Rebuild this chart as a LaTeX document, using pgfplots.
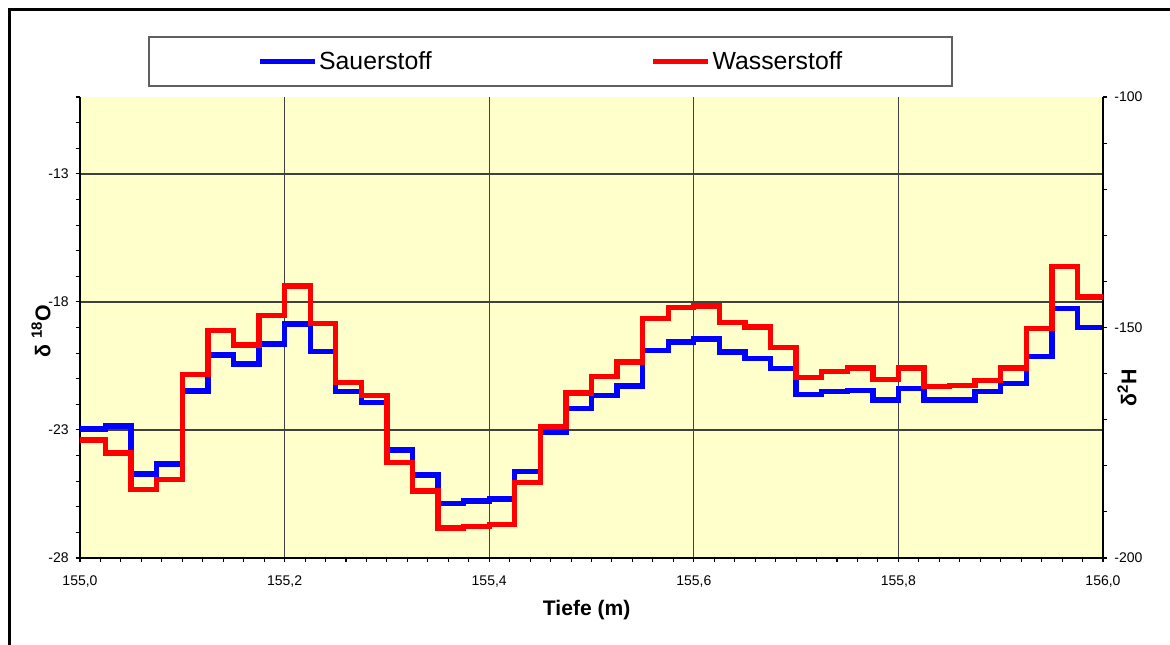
\documentclass[border=0pt]{standalone}
\usepackage{fontspec}
\setmainfont{Liberation Sans}
\usepackage{pgfplots}
\usepackage{pgfplotstable}
\pgfplotsset{compat=1.18}

\definecolor{bgyellow}{HTML}{FFFFCC}
\definecolor{gridc}{HTML}{404040}
\definecolor{legc}{HTML}{606060}

% depth (m), delta 18O
\pgfplotstableread{
x y
155.000 -22.96
155.025 -22.84
155.050 -24.72
155.075 -24.33
155.100 -21.48
155.125 -20.07
155.150 -20.43
155.175 -19.64
155.200 -18.86
155.225 -19.94
155.250 -21.50
155.275 -21.92
155.300 -23.78
155.325 -24.76
155.350 -25.86
155.375 -25.77
155.400 -25.70
155.425 -24.63
155.450 -23.11
155.475 -22.15
155.500 -21.66
155.525 -21.28
155.550 -19.91
155.575 -19.57
155.600 -19.45
155.625 -19.96
155.650 -20.20
155.675 -20.59
155.700 -21.61
155.725 -21.50
155.750 -21.46
155.775 -21.83
155.800 -21.37
155.825 -21.83
155.850 -21.83
155.875 -21.50
155.900 -21.18
155.925 -20.14
155.950 -18.27
155.975 -19.00
156.000 -19.00
}\sauerstoff

% depth (m), delta 2H
\pgfplotstableread{
x y
155.000 -174.4
155.025 -177.2
155.050 -185.1
155.075 -183.0
155.100 -160.2
155.125 -150.7
155.150 -153.8
155.175 -147.4
155.200 -141.0
155.225 -149.2
155.250 -161.9
155.275 -164.8
155.300 -179.3
155.325 -185.5
155.350 -193.5
155.375 -193.2
155.400 -192.8
155.425 -183.6
155.450 -171.5
155.475 -164.2
155.500 -160.6
155.525 -157.5
155.550 -148.0
155.575 -145.7
155.600 -145.3
155.625 -148.9
155.650 -149.9
155.675 -154.4
155.700 -160.9
155.725 -159.5
155.750 -158.8
155.775 -161.3
155.800 -158.8
155.825 -162.8
155.850 -162.6
155.875 -161.5
155.900 -158.8
155.925 -150.2
155.950 -136.7
155.975 -143.4
156.000 -143.4
}\wasserstoff

\pgfplotsset{
  common/.style={
    at={(60pt,64.5pt)}, anchor=south west, scale only axis,
    width=767.25pt, height=345.75pt,
    xmin=155, xmax=156,
    tick align=outside,
    major tick length=3pt, minor tick length=3pt,
    tick style={black, line width=0.8pt},
    axis line style={black, line width=1pt, -},
    ticklabel style={font=\fontsize{10.5}{12}\selectfont},
    clip=true,
  },
}

\begin{document}
\begin{tikzpicture}
\useasboundingbox (0pt,0pt) rectangle (877.5pt,483pt);
\begin{scope}
  \clip (0pt,0pt) rectangle (877.5pt,483pt);
  \draw[line width=2pt] (7.3pt,475.7pt) rectangle (900pt,-20pt);
\end{scope}

\begin{axis}[common,
  ymin=-28, ymax=-10,
  axis x line*=bottom, axis y line*=left,
  tick align=outside,
  axis background/.style={fill=bgyellow},
  xmajorgrids, ymajorgrids,
  grid style={gridc, line width=1pt},
  xtick={155,155.2,155.4,155.6,155.8,156},
  xticklabels={{155,0},{155,2},{155,4},{155,6},{155,8},{156,0}},
  minor x tick num=9,
  ytick={-28,-23,-18,-13},
  yticklabels={-28,-23,-18,-13},
  minor ytick={-27,-26,-25,-24,-22,-21,-20,-19,-17,-16,-15,-14,-12,-11,-10},
  xticklabel style={yshift=-7pt},
  yticklabel style={xshift=-2pt},
  xlabel={Tiefe (m)},
  xlabel style={font=\bfseries\fontsize{15.8}{18}\selectfont,
    at={(axis description cs:0.4953,-0.1128)}, anchor=center},
  ylabel={δ \textsuperscript{18}O},
  ylabel style={font=\bfseries\fontsize{16}{18}\selectfont,
    at={(axis description cs:-0.0381,0.4924)}, anchor=center},
]
\addplot[const plot, color=blue, line width=4pt, line join=miter] table {\sauerstoff};
\end{axis}

\begin{axis}[common,
  ymin=-200, ymax=-100,
  axis y line*=right, axis x line=none,
  tick align=outside,
  ytick={-200,-150,-100},
  yticklabels={-200,-150,-100},
  minor ytick={-190,-180,-170,-160,-140,-130,-120,-110},
  yticklabel style={xshift=2pt},
  ylabel={δ\textsuperscript{2}H},
  ylabel style={font=\bfseries\fontsize{16}{18}\selectfont,
    at={(axis description cs:1.0235,0.369)}, anchor=center},
  legend columns=2,
  legend image code/.code={\draw[#1] (0pt,0pt) -- (41.25pt,0pt);},
  legend style={at={(axis description cs:0.4599,1.077)}, anchor=center,
    draw=legc, line width=0.9pt, fill=white,
    font=\fontsize{18.6}{20}\selectfont,
    minimum width=602.25pt, minimum height=36.75pt, inner sep=0pt,
    nodes={minimum width=0pt, minimum height=0pt, inner xsep=1.2pt, inner ysep=2pt},
    /tikz/every even column/.append style={column sep=163pt}},
]
\addlegendimage{color=blue, line width=4pt}
\addlegendentry{Sauerstoff}
\addplot[const plot, color=red, line width=4pt, line join=miter] table {\wasserstoff};
\addlegendentry{Wasserstoff}
\end{axis}
\end{tikzpicture}
\end{document}
